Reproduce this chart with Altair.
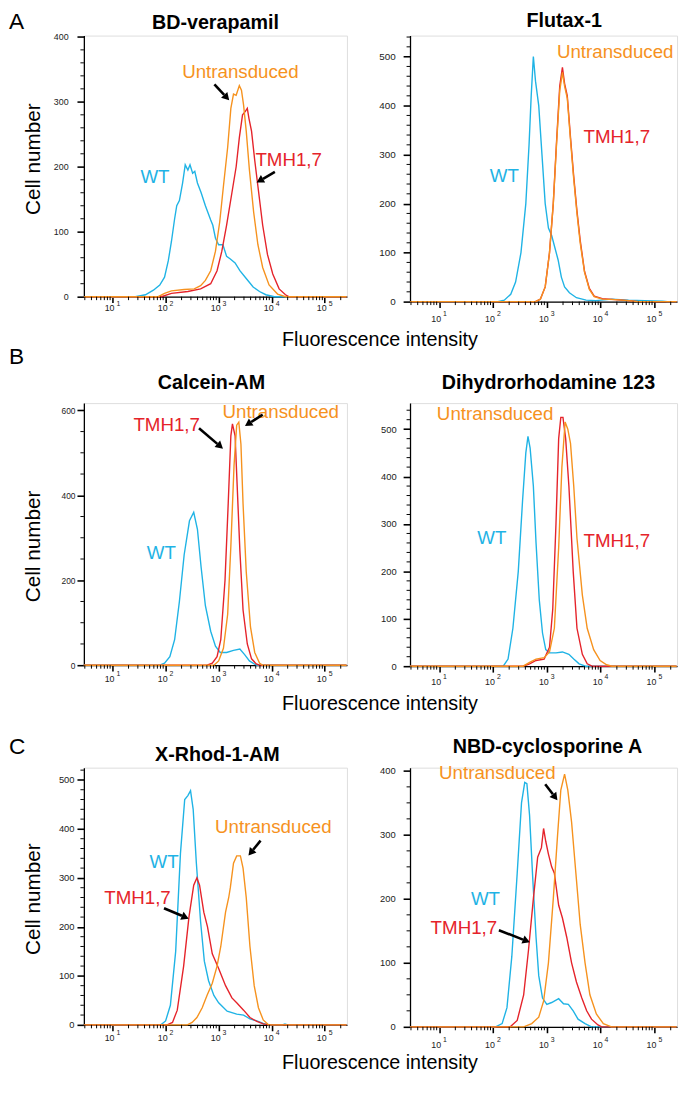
import math
import altair as alt
import pandas as pd

FONT = "Liberation Sans"
COLORS = {"WT": "#1FB3E5", "TMH": "#E5232A", "UNT": "#F6921E"}
NAMES = {"WT": "WT", "TMH": "TMH1,7", "UNT": "Untransduced"}

XMIN, XMAX = 2.88, 262144.0
DECADES = [10, 100, 1000, 10000, 100000]
DECADE_EXP = ["1", "2", "3", "4", "5"]
MINOR_MULT = [2, 3, 4, 5, 6, 7, 8, 9]

# ---- curves: (log10 fluorescence, cell number) ----
BDV_WT = [(0.46, 0), (1.43, 0), (1.62, 3), (1.77, 10), (1.89, 18), (1.98, 30), (2.05, 55), (2.11, 85),
          (2.17, 120), (2.21, 140), (2.26, 148), (2.32, 175), (2.37, 203), (2.42, 195), (2.46, 203),
          (2.51, 190), (2.55, 193), (2.60, 175), (2.67, 160), (2.75, 140), (2.85, 118), (2.89, 110),
          (2.94, 90), (3.0, 80), (3.08, 80), (3.15, 62), (3.22, 58), (3.31, 52), (3.40, 40), (3.52, 28),
          (3.65, 15), (3.77, 8), (3.89, 3), (4.05, 0), (5.41, 0)]
BDV_TMH = [(0.46, 0), (1.92, 0), (2.11, 5), (2.42, 8), (2.66, 12), (2.85, 20), (2.97, 40), (3.06, 70),
           (3.15, 110), (3.25, 160), (3.33, 200), (3.39, 245), (3.45, 280), (3.50, 285), (3.54, 290),
           (3.57, 275), (3.62, 255), (3.68, 210), (3.74, 170), (3.83, 110), (3.92, 65), (4.02, 35),
           (4.14, 12), (4.26, 3), (4.32, 0), (5.41, 0)]
BDV_UNT = [(0.46, 0), (1.86, 0), (1.98, 5), (2.11, 9), (2.35, 11), (2.54, 12), (2.66, 17), (2.75, 25),
           (2.85, 40), (2.94, 70), (3.02, 115), (3.09, 170), (3.17, 230), (3.23, 290), (3.28, 312),
           (3.33, 310), (3.39, 325), (3.43, 318), (3.47, 295), (3.52, 255), (3.58, 195), (3.66, 130),
           (3.74, 80), (3.83, 45), (3.95, 18), (4.11, 4), (4.26, 0), (5.41, 0)]
BDV_LABELS = [("UNT", 3.41, 346), ("WT", 1.80, 184), ("TMH", 4.32, 210)]
BDV_ARROWS = [(2.92, 327, 3.18, 304), (4.06, 192, 3.74, 177)]

FLU_WT = [(0.46, 0), (2.09, 0), (2.21, 3), (2.33, 15), (2.42, 40), (2.52, 100), (2.61, 200), (2.67, 320),
          (2.71, 420), (2.75, 500), (2.79, 450), (2.85, 400), (2.91, 300), (2.97, 200), (3.03, 150),
          (3.09, 135), (3.15, 110), (3.21, 85), (3.27, 50), (3.33, 30), (3.42, 18), (3.55, 8), (3.73, 3),
          (3.91, 2), (4.21, 5), (4.52, 3), (4.82, 2), (5.15, 1), (5.24, 0), (5.41, 0)]
FLU_TMH = [(0.46, 0), (2.79, 0), (2.88, 5), (2.97, 30), (3.05, 100), (3.12, 200), (3.18, 325), (3.24, 440),
           (3.29, 478), (3.33, 445), (3.38, 420), (3.44, 335), (3.50, 255), (3.56, 185), (3.62, 125),
           (3.70, 62), (3.79, 27), (3.88, 11), (4.03, 6), (4.27, 4), (4.52, 2), (4.70, 0), (5.41, 0)]
FLU_UNT = [(0.46, 0), (2.79, 0), (2.88, 5), (2.97, 30), (3.05, 100), (3.12, 200), (3.18, 320), (3.24, 430),
           (3.29, 468), (3.33, 440), (3.38, 415), (3.44, 330), (3.50, 250), (3.56, 180), (3.62, 120),
           (3.70, 60), (3.79, 25), (3.88, 10), (4.03, 5), (4.27, 4), (4.52, 2), (4.70, 0), (5.41, 0)]
FLU_LABELS = [("UNT", 4.27, 510), ("TMH", 4.30, 336), ("WT", 2.21, 256)]
FLU_ARROWS = []

CAL_WT = [(0.46, 0), (1.89, 0), (1.98, 5), (2.08, 20), (2.17, 60), (2.26, 150), (2.35, 260), (2.45, 340),
          (2.53, 360), (2.60, 320), (2.67, 230), (2.75, 140), (2.85, 80), (2.94, 45), (3.03, 30), (3.15, 30),
          (3.28, 35), (3.40, 38), (3.49, 25), (3.58, 10), (3.71, 0), (5.41, 0)]
CAL_TMH = [(0.46, 0), (2.78, 0), (2.88, 5), (2.97, 20), (3.04, 60), (3.12, 200), (3.18, 380), (3.23, 540),
           (3.26, 568), (3.31, 540), (3.35, 420), (3.40, 270), (3.46, 130), (3.54, 50), (3.62, 15),
           (3.71, 3), (3.77, 0), (5.41, 0)]
CAL_UNT = [(0.46, 0), (2.91, 0), (3.0, 10), (3.09, 40), (3.17, 120), (3.23, 280), (3.29, 470), (3.34, 565),
           (3.38, 572), (3.42, 520), (3.46, 380), (3.52, 220), (3.60, 90), (3.68, 30), (3.77, 5), (3.83, 0),
           (5.41, 0)]
CAL_LABELS = [("UNT", 4.17, 596), ("TMH", 2.02, 565), ("WT", 1.92, 265)]
CAL_ARROWS = [(2.63, 558, 3.06, 512), (3.83, 590, 3.52, 565)]

DHR_WT = [(0.46, 0), (2.19, 0), (2.28, 15), (2.37, 80), (2.47, 200), (2.55, 350), (2.61, 450), (2.65, 485),
          (2.69, 460), (2.75, 380), (2.80, 260), (2.86, 140), (2.92, 70), (2.98, 35), (3.05, 28), (3.17, 28),
          (3.29, 30), (3.41, 25), (3.50, 15), (3.60, 5), (3.72, 0), (5.41, 0)]
DHR_TMH = [(0.46, 0), (2.56, 0), (2.68, 5), (2.80, 12), (2.95, 15), (3.05, 40), (3.11, 120), (3.17, 300),
           (3.22, 480), (3.26, 525), (3.30, 525), (3.35, 480), (3.41, 380), (3.49, 200), (3.56, 80),
           (3.66, 25), (3.75, 5), (3.84, 0), (5.41, 0)]
DHR_UNT = [(0.46, 0), (2.56, 0), (2.68, 8), (2.80, 15), (2.95, 18), (3.05, 30), (3.14, 80), (3.22, 250),
           (3.28, 420), (3.34, 515), (3.39, 500), (3.44, 470), (3.50, 380), (3.56, 270), (3.66, 150),
           (3.75, 80), (3.87, 35), (3.99, 12), (4.11, 3), (4.21, 0), (5.41, 0)]
DHR_LABELS = [("UNT", 2.04, 531), ("WT", 1.98, 270), ("TMH", 4.30, 263)]
DHR_ARROWS = []

XRH_WT = [(0.46, 0), (1.91, 0), (2.0, 8), (2.09, 40), (2.19, 150), (2.28, 350), (2.36, 460), (2.42, 468),
          (2.47, 478), (2.52, 440), (2.58, 330), (2.66, 210), (2.73, 130), (2.81, 90), (2.91, 60), (3.0, 45),
          (3.16, 28), (3.34, 22), (3.47, 20), (3.59, 12), (3.72, 8), (3.84, 3), (3.94, 0), (4.2, 0),
          (4.25, 2), (4.3, 0), (5.41, 0)]
XRH_TMH = [(0.46, 0), (2.03, 0), (2.13, 5), (2.22, 30), (2.34, 120), (2.44, 220), (2.53, 285), (2.59, 300),
           (2.64, 285), (2.72, 230), (2.79, 200), (2.88, 145), (3.0, 115), (3.13, 80), (3.25, 55), (3.34, 45),
           (3.47, 30), (3.59, 15), (3.72, 7), (3.84, 2), (3.94, 0), (5.41, 0)]
XRH_UNT = [(0.46, 0), (2.41, 0), (2.5, 5), (2.59, 15), (2.69, 35), (2.78, 60), (2.88, 85), (2.97, 120),
           (3.04, 160), (3.13, 230), (3.19, 260), (3.22, 280), (3.28, 330), (3.34, 345), (3.41, 345),
           (3.46, 320), (3.52, 260), (3.59, 160), (3.67, 80), (3.75, 35), (3.84, 10), (3.94, 0), (5.41, 0)]
XRH_LABELS = [("UNT", 4.03, 404), ("WT", 1.97, 332), ("TMH", 1.47, 258)]
XRH_ARROWS = [(3.79, 376, 3.58, 348), (1.97, 238, 2.41, 218)]

NBD_WT = [(0.46, 0), (2.05, 0), (2.17, 5), (2.26, 30), (2.35, 110), (2.45, 240), (2.53, 350), (2.59, 382),
          (2.63, 380), (2.68, 330), (2.74, 230), (2.80, 140), (2.85, 80), (2.92, 45), (3.0, 35), (3.09, 38),
          (3.22, 44), (3.31, 36), (3.40, 35), (3.49, 25), (3.58, 12), (3.71, 5), (3.83, 0), (5.41, 0)]
NBD_TMH = [(0.46, 0), (2.32, 0), (2.45, 10), (2.57, 50), (2.66, 120), (2.75, 200), (2.83, 265), (2.90, 280),
           (2.94, 310), (2.98, 290), (3.03, 270), (3.09, 250), (3.14, 240), (3.22, 190), (3.29, 170),
           (3.37, 140), (3.46, 100), (3.55, 70), (3.65, 45), (3.74, 25), (3.83, 12), (3.95, 3), (4.02, 0),
           (5.41, 0)]
NBD_UNT = [(0.46, 0), (2.57, 0), (2.72, 5), (2.85, 15), (2.94, 40), (3.03, 100), (3.12, 200), (3.20, 300),
           (3.26, 370), (3.33, 395), (3.39, 370), (3.46, 320), (3.54, 240), (3.62, 160), (3.71, 100),
           (3.80, 50), (3.92, 20), (4.05, 5), (4.20, 0), (5.41, 0)]
NBD_LABELS = [("UNT", 2.08, 397), ("WT", 1.86, 200), ("TMH", 1.46, 154)]
NBD_ARROWS = [(2.97, 379, 3.18, 356), (2.11, 151, 2.66, 133)]

PANELS = [
    dict(title="BD-verapamil", curves=(BDV_WT, BDV_TMH, BDV_UNT), labels=BDV_LABELS, arrows=BDV_ARROWS,
         W=267, H=265, ymax=402, ymajor=[0, 100, 200, 300, 400], minor=20, ylab=9, lpad=9,
         xoff=15, toff=7, tdx=0, left=True, letter="A", letter_y=-14, ytitle_y=125, xtitle_y=44),
    dict(title="Flutax-1", curves=(FLU_WT, FLU_TMH, FLU_UNT), labels=FLU_LABELS, arrows=FLU_ARROWS,
         W=271, H=270, ymax=543, ymajor=[0, 100, 200, 300, 400, 500], minor=20, ylab=10, lpad=8,
         xoff=21, toff=9, tdx=21, left=False),
    dict(title="Calcein-AM", curves=(CAL_WT, CAL_TMH, CAL_UNT), labels=CAL_LABELS, arrows=CAL_ARROWS,
         W=267, H=266, ymax=617, ymajor=[0, 200, 400, 600], minor=50, ylab=8.5, lpad=2,
         xoff=17, toff=14, tdx=-4, left=True, letter="B", letter_y=-47, ytitle_y=145, xtitle_y=39),
    dict(title="Dihydrorhodamine 123", curves=(DHR_WT, DHR_TMH, DHR_UNT), labels=DHR_LABELS, arrows=DHR_ARROWS,
         W=271, H=267, ymax=555, ymajor=[0, 100, 200, 300, 400, 500], minor=20, ylab=9.5, lpad=7,
         xoff=19, toff=14, tdx=5, left=False),
    dict(title="X-Rhod-1-AM", curves=(XRH_WT, XRH_TMH, XRH_UNT), labels=XRH_LABELS, arrows=XRH_ARROWS,
         W=267, H=261, ymax=525, ymajor=[0, 100, 200, 300, 400, 500], minor=20, ylab=9.5, lpad=3,
         xoff=16, toff=7, tdx=2, left=True, letter="C", letter_y=-21, ytitle_y=133, xtitle_y=38),
    dict(title="NBD-cyclosporine A", curves=(NBD_WT, NBD_TMH, NBD_UNT), labels=NBD_LABELS, arrows=NBD_ARROWS,
         W=271, H=263, ymax=405, ymajor=[0, 100, 200, 300, 400], minor=25, ylab=9.5, lpad=8,
         xoff=21, toff=15, tdx=4, left=False),
]

L0, L1 = math.log10(XMIN), math.log10(XMAX)


def to_px(lx, c, W, H, ymax):
    return (lx - L0) / (L1 - L0) * W, H - c / ymax * H


def to_data(px, py, W, H, ymax):
    return L0 + px / W * (L1 - L0), (H - py) / H * ymax


def build_panel(p):
    W, H, ymax = p["W"], p["H"], p["ymax"]
    xs = alt.Scale(type="log", domain=[XMIN, XMAX], nice=False)
    ys = alt.Scale(domain=[0, ymax], nice=False)

    x_minor = [m * d for d in [1] + DECADES for m in MINOR_MULT if XMIN <= m * d <= XMAX]
    y_minor = [v for v in range(0, int(ymax) + 1, p["minor"]) if v not in p["ymajor"]]

    xkw = dict(values=DECADES, labels=False, grid=False, domainColor="black", domainWidth=1.3,
               tickColor="black", tickSize=6, tickWidth=1.6)
    ykw = dict(values=p["ymajor"], grid=False, domainColor="black", domainWidth=1.3, tickColor="black",
               tickSize=7, tickWidth=1.6, labelFont=FONT, labelFontSize=p["ylab"], labelColor="#222",
               labelPadding=p["lpad"], labelOverlap=False, format="d")
    if p["left"]:
        xkw.update(title="Fluorescence intensity", titleFont=FONT, titleFontSize=20,
                   titleFontWeight="normal", titleColor="black", titleX=300, titleY=p["xtitle_y"],
                   titleBaseline="middle", titleAlign="center")
        ykw.update(title="Cell number", titleFont=FONT, titleFontSize=21, titleFontWeight="normal",
                   titleColor="black", titleX=-51, titleY=p["ytitle_y"], titleAngle=270,
                   titleBaseline="middle", titleAlign="center")
    else:
        xkw.update(title="")
        ykw.update(title="")

    layers = []
    first = True
    for key, pts in zip(["WT", "TMH", "UNT"], p["curves"]):
        df = pd.DataFrame({"x": [10 ** lx for lx, _ in pts], "y": [c for _, c in pts]})
        if first:
            enc = dict(x=alt.X("x:Q", scale=xs, axis=alt.Axis(**xkw)),
                       y=alt.Y("y:Q", scale=ys, axis=alt.Axis(**ykw)))
            first = False
        else:
            enc = dict(x=alt.X("x:Q", scale=xs), y=alt.Y("y:Q", scale=ys))
        layers.append(alt.Chart(df).mark_line(color=COLORS[key], strokeWidth=1.4).encode(**enc))

    # minor ticks
    layers.append(alt.Chart(pd.DataFrame({"x": x_minor})).mark_rule(color="black", strokeWidth=1).encode(
        x=alt.X("x:Q", scale=xs), y=alt.value(H), y2=alt.value(H + 3.5)))
    layers.append(alt.Chart(pd.DataFrame({"y": y_minor})).mark_rule(color="black", strokeWidth=1).encode(
        y=alt.Y("y:Q", scale=ys), x=alt.value(0), x2=alt.value(-3.5)))

    lab = pd.DataFrame({"x": [10 ** lx for _, lx, _ in p["labels"]],
                        "y": [c for _, _, c in p["labels"]],
                        "t": [NAMES[k] for k, _, _ in p["labels"]],
                        "c": [COLORS[k] for k, _, _ in p["labels"]]})
    layers.append(alt.Chart(lab).mark_text(font=FONT, fontSize=19, align="center", baseline="middle").encode(
        x=alt.X("x:Q", scale=xs), y=alt.Y("y:Q", scale=ys), text="t:N", color=alt.Color("c:N", scale=None)))

    if p["arrows"]:
        rx, ry, rx2, ry2, hx, hy, ha = [], [], [], [], [], [], []
        for lx0, c0, lx1, c1 in p["arrows"]:
            x0, y0 = to_px(lx0, c0, W, H, ymax)
            x1, y1 = to_px(lx1, c1, W, H, ymax)
            L = math.hypot(x1 - x0, y1 - y0)
            ux, uy = (x1 - x0) / L, (y1 - y0) / L
            ex, ey = to_data(x1 - ux * 6, y1 - uy * 6, W, H, ymax)
            tx, ty = to_data(x1 - ux * 3.5, y1 - uy * 3.5, W, H, ymax)
            rx.append(10 ** lx0); ry.append(c0); rx2.append(10 ** ex); ry2.append(ey)
            hx.append(10 ** tx); hy.append(ty)
            ha.append(math.degrees(math.atan2(ux, -uy)) % 360)
        rdf = pd.DataFrame({"x": rx, "y": ry, "x2": rx2, "y2": ry2})
        hdf = pd.DataFrame({"x": hx, "y": hy, "a": ha})
        layers.append(alt.Chart(rdf).mark_rule(color="black", strokeWidth=2.6).encode(
            x=alt.X("x:Q", scale=xs), x2="x2:Q", y=alt.Y("y:Q", scale=ys), y2="y2:Q"))
        layers.append(alt.Chart(hdf).mark_point(shape="triangle", filled=True, color="black", size=75,
                                                opacity=1).encode(
            x=alt.X("x:Q", scale=xs), y=alt.Y("y:Q", scale=ys), angle=alt.Angle("a:Q", scale=None)))

    tick_df = pd.DataFrame({"x": DECADES, "base": ["10"] * len(DECADES), "e": DECADE_EXP})
    layers.append(alt.Chart(tick_df).mark_text(font=FONT, fontSize=9, align="right", dx=2,
                                               baseline="alphabetic", color="#222").encode(
        x=alt.X("x:Q", scale=xs), y=alt.value(H + p["xoff"]), text="base:N"))
    layers.append(alt.Chart(tick_df).mark_text(font=FONT, fontSize=7, align="left", dx=4,
                                               baseline="alphabetic", color="#222").encode(
        x=alt.X("x:Q", scale=xs), y=alt.value(H + p["xoff"] - 6), text="e:N"))

    head = pd.DataFrame({"t": [p["title"]]})
    layers.append(alt.Chart(head).mark_text(font=FONT, fontSize=20, fontWeight="bold", align="center",
                                            baseline="alphabetic", color="black").encode(
        x=alt.value(W / 2 + p["tdx"]), y=alt.value(-p["toff"]), text="t:N"))

    if p["left"]:
        let_df = pd.DataFrame({"t": [p["letter"]]})
        layers.append(alt.Chart(let_df).mark_text(font=FONT, fontSize=23, align="left", baseline="middle",
                                                  color="black").encode(
            x=alt.value(-76), y=alt.value(p["letter_y"]), text="t:N"))

    return alt.layer(*layers).properties(width=W, height=H)


panels = [build_panel(p) for p in PANELS]

chart = alt.concat(*panels, columns=2, spacing={"row": 103, "column": 64}, bounds="flush",
                   align="each").properties(
    padding={"left": 0, "top": -6, "right": 0, "bottom": 0}
).configure_view(stroke="#999", strokeWidth=1).configure(font=FONT)

chart.save("out.html", embed_options={"renderer": "svg", "actions": False})
